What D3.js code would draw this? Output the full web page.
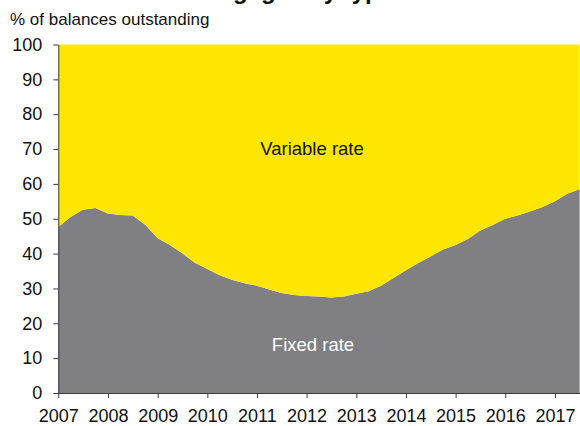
<!DOCTYPE html>
<html>
<head>
<meta charset="utf-8">
<script src="https://cdn.jsdelivr.net/npm/d3@7"></script>
<style>
  html, body { margin: 0; padding: 0; background: #fff; overflow: hidden; }
  text { font-family: Arial, "Liberation Sans", sans-serif; }
  .axis path, .axis line { stroke: #3a3a3a; }
  .axis text { fill: #111; font-size: 18px; }
</style>
</head>
<body>
<svg id="chart"></svg>
<script>
const width = 580;
const height = 426;

const margins = { left: 58.3, top: 44.5, bottom: 33 };

const quarters = [
  '2007-01-01', '2007-04-01', '2007-07-01', '2007-10-01',
  '2008-01-01', '2008-04-01', '2008-07-01', '2008-10-01',
  '2009-01-01', '2009-04-01', '2009-07-01', '2009-10-01',
  '2010-01-01', '2010-04-01', '2010-07-01', '2010-10-01',
  '2011-01-01', '2011-04-01', '2011-07-01', '2011-10-01',
  '2012-01-01', '2012-04-01', '2012-07-01', '2012-10-01',
  '2013-01-01', '2013-04-01', '2013-07-01', '2013-10-01',
  '2014-01-01', '2014-04-01', '2014-07-01', '2014-10-01',
  '2015-01-01', '2015-04-01', '2015-07-01', '2015-10-01',
  '2016-01-01', '2016-04-01', '2016-07-01', '2016-10-01',
  '2017-01-01', '2017-04-01', '2017-07-01'
];

// % of balances outstanding on fixed rates
const fixedRate = [
  47.6, 50.5, 52.6, 53.1,
  51.5, 51.1, 50.9, 48.3,
  44.4, 42.5, 40.1, 37.4,
  35.6, 33.8, 32.5, 31.5,
  30.8, 29.7, 28.7, 28.1,
  27.8, 27.7, 27.4, 27.7,
  28.5, 29.2, 30.8, 33.0,
  35.2, 37.3, 39.2, 41.2,
  42.5, 44.2, 46.6, 48.2,
  50.0, 50.9, 52.1, 53.4,
  55.0, 57.2, 58.5
];

// % of balances outstanding on variable rates
const variableRate = [
  52.4, 49.5, 47.4, 46.9,
  48.5, 48.9, 49.1, 51.7,
  55.6, 57.5, 59.9, 62.6,
  64.4, 66.2, 67.5, 68.5,
  69.2, 70.3, 71.3, 71.9,
  72.2, 72.3, 72.6, 72.3,
  71.5, 70.8, 69.2, 67.0,
  64.8, 62.7, 60.8, 58.8,
  57.5, 55.8, 53.4, 51.8,
  50.0, 49.1, 47.9, 46.6,
  45.0, 42.8, 41.5
];

const yTicks = [0, 10, 20, 30, 40, 50, 60, 70, 80, 90, 100];
const xTickYears = [2007, 2008, 2009, 2010, 2011, 2012, 2013, 2014, 2015, 2016, 2017];

const parse = d3.timeParse('%Y-%m-%d');
const table = quarters.map((q, i) => ({
  date: parse(q),
  fixed: fixedRate[i],
  variable: variableRate[i]
}));

const svg = d3.select('#chart')
    .attr('width', width)
    .attr('height', height);

// the 2007 and 2017 ticks pin the x scale
const xScale = d3.scaleTime()
    .domain([new Date(2007, 0, 1), new Date(2017, 0, 1)])
    .range([margins.left, 555]);

const yScale = d3.scaleLinear()
    .domain([0, 100])
    .range([height - margins.bottom, margins.top]);

const stack = d3.stack().keys(['fixed', 'variable']);
const layers = stack(table);

const area = d3.area()
    .x(d => xScale(d.data.date))
    .y0(d => yScale(d[0]))
    .y1(d => yScale(d[1]));

const colours = { fixed: '#807f84', variable: '#ffe600' };

svg.append('g')
  .selectAll('path')
  .data(layers)
  .join('path')
    .attr('fill', d => colours[d.key])
    .attr('d', area);

// title, cut by the top edge of the picture
svg.append('text')
    .attr('x', 181)
    .attr('y', -1)
    .style('font-size', '24px')
    .style('font-weight', 'bold')
    .attr('fill', '#111')
    .text('Mortgages by type');

svg.append('text')
    .attr('x', 10)
    .attr('y', 25)
    .style('font-size', '17px')
    .attr('fill', '#111')
    .text('% of balances outstanding');

svg.append('g')
    .attr('class', 'axis')
    .attr('transform', `translate(${margins.left}, 0)`)
    .call(d3.axisLeft(yScale)
      .tickValues(yTicks)
      .tickSize(5)
      .tickSizeOuter(0)
      .tickPadding(11));

svg.append('g')
    .attr('class', 'axis')
    .attr('transform', `translate(0, ${height - margins.bottom})`)
    .call(d3.axisBottom(xScale)
      .tickValues(xTickYears.map(y => new Date(y, 0, 1)))
      .tickFormat(d3.timeFormat('%Y'))
      .tickSize(5)
      .tickSizeOuter(0)
      .tickPadding(11))
    .call(g => g.select('.domain').attr('d', `M${margins.left},0.5H${width}`));

svg.selectAll('.axis text').style('font-family', 'Arial, "Liberation Sans", sans-serif');

svg.append('text')
    .attr('x', 312)
    .attr('y', 155)
    .attr('text-anchor', 'middle')
    .style('font-size', '18.5px')
    .attr('fill', '#111')
    .text('Variable rate');

svg.append('text')
    .attr('x', 313)
    .attr('y', 351)
    .attr('text-anchor', 'middle')
    .style('font-size', '18.5px')
    .attr('fill', '#fff')
    .text('Fixed rate');
</script>
</body>
</html>
